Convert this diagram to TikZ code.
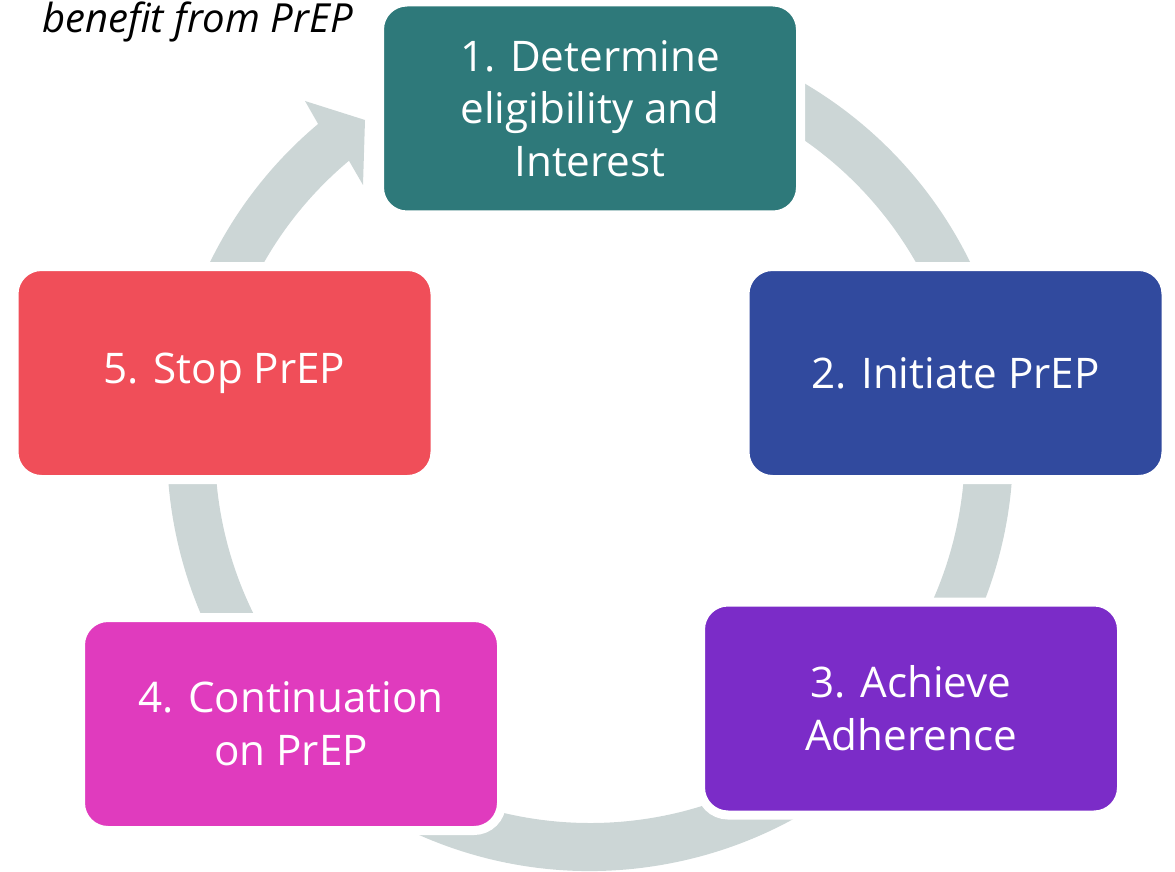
\documentclass[tikz,border=0pt]{standalone}
\usepackage{fontspec}
\setmainfont{Open Sans}
\definecolor{stepteal}{RGB}{46,121,122}
\definecolor{stepblue}{RGB}{49,74,158}
\definecolor{steppurple}{RGB}{123,44,200}
\definecolor{stepmagenta}{RGB}{224,59,190}
\definecolor{stepred}{RGB}{240,78,89}
\definecolor{ringgray}{RGB}{204,214,214}

\begin{document}
\begin{tikzpicture}[
        stage/.style={rectangle,rounded corners=0.55cm,draw=white,line width=0.18cm,
            minimum width=8.42cm,minimum height=4.26cm,text=white,align=center,
            font=\fontsize{24}{30}\selectfont}
    ]
        \useasboundingbox (0,0) rectangle (23.5,-17.44);
        \coordinate (C) at (11.8,-8.96);
        % cycle arrow behind the stages
        \begin{scope}[shift={(C)}]
            \fill[ringgray] (100:8.46) arc (100:-230:8.46) -- (-5.7,6.94) -- (-4.5,6.56)
                -- (-4.54,5.26) -- (-230:7.5) arc (-230:100:7.5) -- cycle;
        \end{scope}
        \node[stage,fill=stepteal] (S1) at (11.8,-2.17) {1. Determine\\eligibility and\\Interest};
        \node[stage,fill=stepblue] (S2) at (19.11,-7.46) {2. Initiate PrEP};
        \node[stage,fill=steppurple] (S3) at (18.22,-14.17) {3. Achieve\\Adherence};
        \node[stage,fill=stepmagenta] (S4) at (5.82,-14.48) {4. Continuation\\on PrEP};
        \node[stage,fill=stepred] (S5) at (4.49,-7.46) {5. Stop PrEP};
        \node[anchor=base west,font=\itshape\fontsize{22.8}{24}\selectfont] (note) at (0.72,-0.66) {benefit from PrEP};
    \end{tikzpicture}
\end{document}
